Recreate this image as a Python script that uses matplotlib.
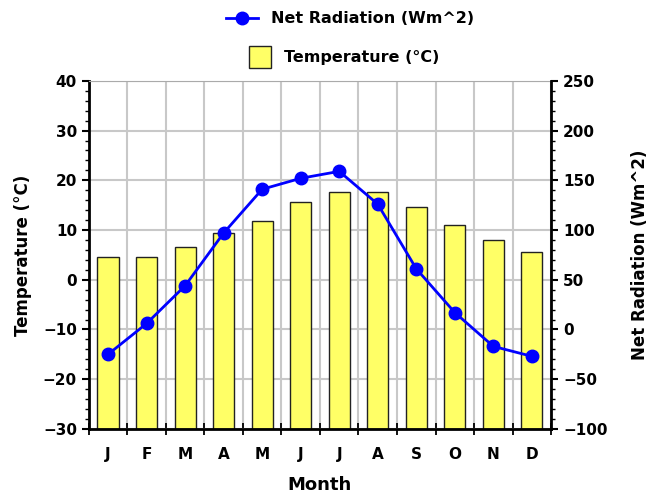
import matplotlib.pyplot as plt
import numpy as np
from matplotlib.ticker import MultipleLocator

months = ["J", "F", "M", "A", "M", "J", "J", "A", "S", "O", "N", "D"]
temperature = [4.6, 4.6, 6.5, 9.4, 11.9, 15.7, 17.7, 17.7, 14.6, 11.0, 8.0, 5.5]
net_radiation = [-25, 6, 44, 97, 141, 152, 159, 126, 61, 17, -17, -27]

plt.rcParams['font.family'] = ['DejaVu Sans']
plt.rcParams['font.weight'] = 'bold'

fig = plt.figure(figsize=(6.53, 4.93), dpi=100)
ax = fig.add_axes([0.136, 0.130, 0.708, 0.706])
x = np.arange(len(months))

base = -30
ax.bar(x, np.array(temperature) - base, bottom=base, width=0.55, color='#ffff66',
       edgecolor='#222222', linewidth=1.0, zorder=2)
ax.set_xlim(-0.5, len(months) - 0.5)
ax.set_ylim(-30, 40)
ax.yaxis.set_major_locator(MultipleLocator(10))
ax.yaxis.set_minor_locator(MultipleLocator(2))
ax.set_xticks(np.arange(-0.5, len(months), 1.0))
ax.set_xticklabels([])
ax.set_xticks(x, minor=True)
ax.set_xticklabels(months, minor=True)
ax.tick_params(axis='x', which='minor', length=0, pad=13, labelsize=11)
ax.tick_params(axis='x', which='major', direction='inout', length=8, width=1.3)
ax.tick_params(axis='y', which='major', direction='out', length=5, width=1.5, labelsize=11)
ax.tick_params(axis='y', which='minor', direction='out', length=3, width=1)
ax.grid(True, which='major', color='#c8c8c8', linewidth=1.5, zorder=0)
ax.set_axisbelow(True)
for s in ['left', 'bottom']:
    ax.spines[s].set_linewidth(2)
ax.spines['top'].set_color('#aaaaaa')
ax.spines['right'].set_visible(False)
ax.set_ylabel("Temperature (°C)", fontsize=12, fontweight='bold', labelpad=8)
ax.set_xlabel("Month", fontsize=13, fontweight='bold', labelpad=10)

ax2 = ax.twinx()
ax2.plot(x, net_radiation, color='#0000ff', linewidth=2, marker='o', markersize=9, zorder=3)
ax2.set_ylim(-100, 250)
ax2.yaxis.set_major_locator(MultipleLocator(50))
ax2.yaxis.set_minor_locator(MultipleLocator(10))
ax2.tick_params(axis='y', which='major', direction='out', length=5, width=1.5, labelsize=11)
ax2.tick_params(axis='y', which='minor', direction='out', length=3, width=1)
ax2.spines['right'].set_linewidth(2)
ax2.spines['top'].set_visible(False)
ax2.spines['left'].set_visible(False)
ax2.spines['bottom'].set_visible(False)
ax2.set_ylabel("Net Radiation (Wm^2)", fontsize=12, fontweight='bold', labelpad=17)

h1, = ax2.plot([], [], color='#0000ff', linewidth=2, marker='o', markersize=9)
h2 = plt.Rectangle((0, 0), 1, 1, facecolor='#ffff66', edgecolor='#222222')
leg1 = fig.legend([h1], ["Net Radiation (Wm^2)"], loc='center', bbox_to_anchor=(0.536, 0.962),
                  frameon=False, fontsize=11.5, handlelength=2.0)
leg2 = fig.legend([h2], ["Temperature (°C)"], loc='center', bbox_to_anchor=(0.527, 0.884),
                  frameon=False, fontsize=11.5, handlelength=1.4, handleheight=1.8)

fig.savefig('out.png', dpi=100)
